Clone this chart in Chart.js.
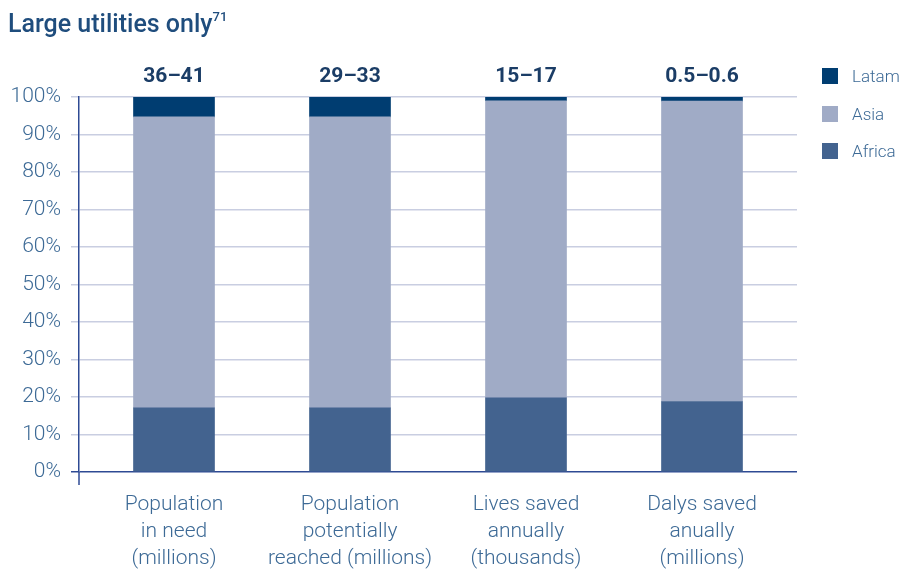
<!DOCTYPE html>
<html>
<head>
<meta charset="utf-8">
<script src="https://cdn.jsdelivr.net/npm/chart.js@4.4.1/dist/chart.umd.min.js"></script>
<style>
  html, body { margin: 0; padding: 0; background: #fff; }
  #wrap { position: relative; width: 902px; height: 570px; font-family: Roboto, 'Open Sans', sans-serif; }
  #title { position: absolute; left: 8px; top: 9px; font-size: 25px; font-weight: 500; color: #1f4d7d; }
  #title sup { font-size: 13px; position: relative; top: -2px; }
  #legend { position: absolute; left: 822px; top: 68px; }
  .item { display: flex; align-items: center; height: 16px; margin-bottom: 21.5px; font-size: 17px; font-weight: 300; color: #3d6a96; }
  .item span.box { width: 16px; height: 16px; margin-right: 14px; }
  canvas { position: absolute; left: 0; top: 0; }
</style>
</head>
<body>
<div id="wrap">
  <canvas id="chart" width="902" height="570"></canvas>
  <div id="title">Large utilities only<sup>71</sup></div>
  <div id="legend"></div>
</div>
<script>
// categories and values (share of total, %)
const categories = [
  ['Population', 'in need', '(millions)'],
  ['Population', 'potentially', 'reached (millions)'],
  ['Lives saved', 'annually', '(thousands)'],
  ['Dalys saved', 'anually', '(millions)']
];
const totals = ['36–41', '29–33', '15–17', '0.5–0.6'];
const africa = [17.1, 17.1, 19.8, 18.8];
const asia   = [77.6, 77.6, 79.2, 80.1];
const latam  = [5.3, 5.3, 1.0, 1.1];
const yTicks = [0, 10, 20, 30, 40, 50, 60, 70, 80, 90, 100];

const COLORS = { africa: '#43638f', asia: '#a0abc6', latam: '#003d71' };

const topLabels = {
  id: 'topLabels',
  afterDatasetsDraw(chart) {
    const { ctx, chartArea } = chart;
    const meta = chart.getDatasetMeta(chart.data.datasets.length - 1);
    ctx.save();
    ctx.font = 'bold 21px Roboto, sans-serif';
    ctx.fillStyle = '#1b3d66';
    ctx.textAlign = 'center';
    ctx.textBaseline = 'middle';
    meta.data.forEach((bar, i) => ctx.fillText(totals[i], bar.x, chartArea.top - 20));
    ctx.restore();
  }
};

// nudge the category band so bars sit where the reference puts them
const bandInset = {
  id: 'bandInset',
  afterLayout(chart) {
    const x = chart.scales.x;
    x.left += 7;
    x.right -= 7;
    x.configure();
  }
};

const chart = new Chart(document.getElementById('chart'), {
  type: 'bar',
  data: {
    labels: categories,
    datasets: [
      { label: 'Africa', data: africa, backgroundColor: COLORS.africa },
      { label: 'Asia', data: asia, backgroundColor: COLORS.asia },
      { label: 'Latam', data: latam, backgroundColor: COLORS.latam }
    ]
  },
  options: {
    responsive: false,
    animation: false,
    barThickness: 81,
    layout: { padding: { top: 97, right: 105, bottom: 0, left: 0 } },
    plugins: { legend: { display: false }, tooltip: { enabled: false } },
    scales: {
      x: {
        stacked: true,
        afterFit: s => { s.height = 98; },
        grid: { display: false },
        border: { display: false },
        ticks: { color: '#3d6a96', padding: 11, font: { family: 'Roboto', size: 21, weight: 300, lineHeight: 1.29 } }
      },
      y: {
        stacked: true,
        min: 0, max: 100,
        afterFit: s => { s.width = 79; },
        afterBuildTicks: s => { s.ticks = yTicks.map(v => ({ value: v })); },
        grid: { color: c => c.index === 0 ? '#2e4a94' : '#c9cee1', lineWidth: 1.5, tickLength: 8 },
        border: { color: '#2e4a94', width: 1.5 },
        ticks: { color: '#3d6a96', padding: 10, font: { family: 'Roboto', size: 21, weight: 300 }, callback: v => v + '%' }
      }
    }
  },
  plugins: [bandInset, topLabels, {
    // y axis line runs a little below the baseline
    id: 'axisFoot',
    afterDraw(chart) {
      const { ctx, chartArea } = chart;
      ctx.save();
      ctx.strokeStyle = '#2e4a94';
      ctx.lineWidth = 1.5;
      ctx.beginPath();
      ctx.moveTo(chartArea.left, chartArea.bottom);
      ctx.lineTo(chartArea.left, chartArea.bottom + 13);
      ctx.stroke();
      ctx.restore();
    }
  }]
});

// legend (top to bottom: Latam, Asia, Africa)
const legend = document.getElementById('legend');
chart.data.datasets.slice().reverse().forEach(ds => {
  const row = document.createElement('div');
  row.className = 'item';
  row.innerHTML = '<span class="box" style="background:' + ds.backgroundColor + '"></span>' + ds.label;
  legend.appendChild(row);
});
</script>
</body>
</html>
